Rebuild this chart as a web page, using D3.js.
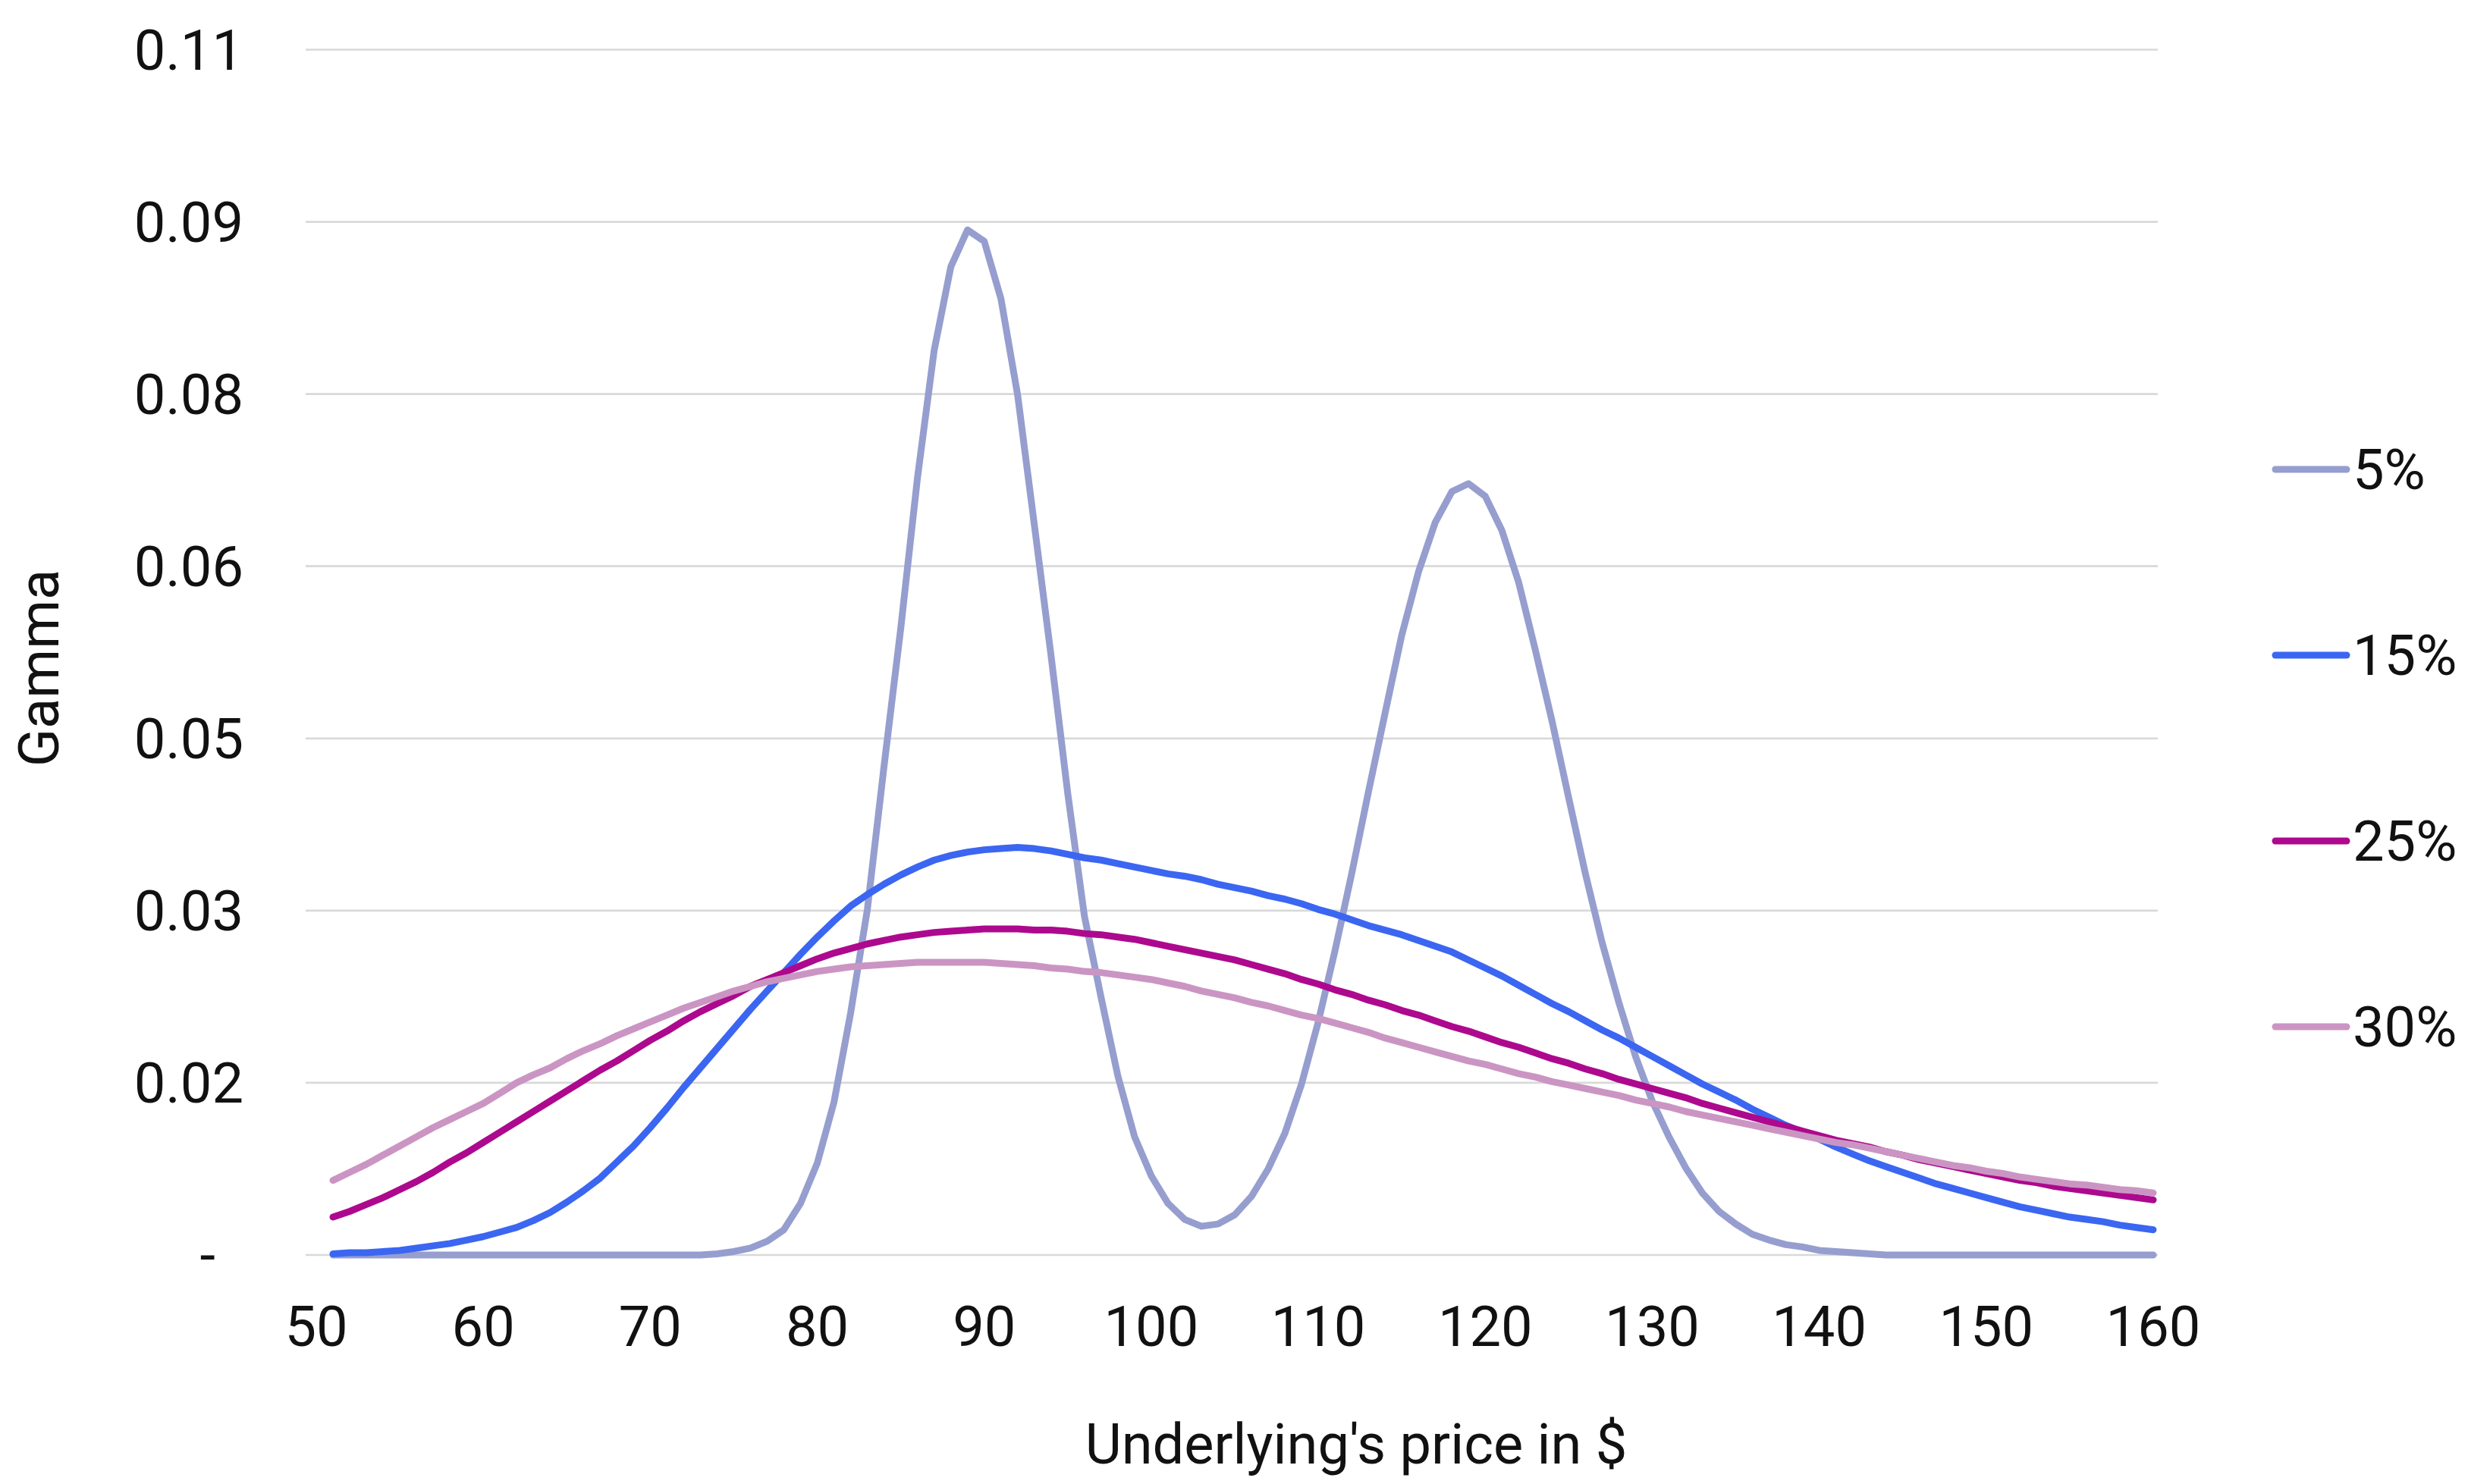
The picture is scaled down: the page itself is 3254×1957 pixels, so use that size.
<!DOCTYPE html>
<html>
<head>
<meta charset="utf-8">
<script src="https://cdn.jsdelivr.net/npm/d3@7"></script>
<style>
  body { margin: 0; background: #fff; }
  text { font-family: Roboto, "Noto Sans", sans-serif; fill: #111; }
</style>
</head>
<body>
<svg width="3254" height="1957"></svg>
<script>

// Data: underlying price and gamma for each volatility
var price = [51,52,53,54,55,56,57,58,59,60,
  61,62,63,64,65,66,67,68,69,70,
  71,72,73,74,75,76,77,78,79,80,
  81,82,83,84,85,86,87,88,89,90,
  91,92,93,94,95,96,97,98,99,100,
  101,102,103,104,105,106,107,108,109,110,
  111,112,113,114,115,116,117,118,119,120,
  121,122,123,124,125,126,127,128,129,130,
  131,132,133,134,135,136,137,138,139,140,
  141,142,143,144,145,146,147,148,149,150,
  151,152,153,154,155,156,157,158,159,160];

var gamma5 = [0,0,0,0,0,0,0,0,0,0,
  0,0,0,0,0,0,0,0,0,0,
  0,0,0,0.0001,0.0003,0.0006,0.0012,0.0022,0.0045,0.0080,
  0.0133,0.0211,0.0301,0.0426,0.0546,0.0677,0.0788,0.0861,0.0893,0.0883,
  0.0833,0.0749,0.0636,0.0522,0.0402,0.0295,0.0224,0.0156,0.0103,0.0069,
  0.0045,0.0031,0.0025,0.0027,0.0035,0.0051,0.0075,0.0106,0.0149,0.0203,
  0.0265,0.0332,0.0403,0.0472,0.0540,0.0595,0.0638,0.0665,0.0672,0.0661,
  0.0631,0.0586,0.0527,0.0465,0.0398,0.0332,0.0272,0.0220,0.0173,0.0134,
  0.0103,0.0076,0.0054,0.0038,0.0027,0.0018,0.0013,0.0009,0.0007,0.0004,
  0.0003,0.0002,0.0001,0,0,0,0,0,0,0,
  0,0,0,0,0,0,0,0,0,0];

var gamma15 = [0.0001,0.0002,0.0002,0.0003,0.0004,0.0006,0.0008,0.0010,0.0013,0.0016,
  0.0020,0.0024,0.0030,0.0037,0.0046,0.0056,0.0067,0.0081,0.0095,0.0111,
  0.0128,0.0146,0.0163,0.0180,0.0197,0.0214,0.0230,0.0246,0.0262,0.0277,
  0.0291,0.0304,0.0314,0.0323,0.0331,0.0338,0.0344,0.0348,0.0351,0.0353,
  0.0354,0.0355,0.0354,0.0352,0.0349,0.0346,0.0344,0.0341,0.0338,0.0335,
  0.0332,0.0330,0.0327,0.0323,0.0320,0.0317,0.0313,0.0310,0.0306,0.0301,
  0.0297,0.0292,0.0287,0.0283,0.0279,0.0274,0.0269,0.0264,0.0257,0.0250,
  0.0243,0.0235,0.0227,0.0219,0.0212,0.0204,0.0196,0.0189,0.0181,0.0173,
  0.0165,0.0157,0.0149,0.0142,0.0135,0.0127,0.0120,0.0113,0.0107,0.0101,
  0.0094,0.0088,0.0082,0.0077,0.0072,0.0067,0.0062,0.0058,0.0054,0.0050,
  0.0046,0.0042,0.0039,0.0036,0.0033,0.0031,0.0029,0.0026,0.0024,0.0022];

var gamma25 = [0.0033,0.0038,0.0044,0.0050,0.0057,0.0064,0.0072,0.0081,0.0089,0.0098,
  0.0107,0.0116,0.0125,0.0134,0.0143,0.0152,0.0161,0.0169,0.0178,0.0187,
  0.0195,0.0204,0.0212,0.0219,0.0226,0.0234,0.0240,0.0246,0.0252,0.0258,
  0.0263,0.0267,0.0271,0.0274,0.0277,0.0279,0.0281,0.0282,0.0283,0.0284,
  0.0284,0.0284,0.0283,0.0283,0.0282,0.0280,0.0279,0.0277,0.0275,0.0272,
  0.0269,0.0266,0.0263,0.0260,0.0257,0.0253,0.0249,0.0245,0.0240,0.0236,
  0.0231,0.0227,0.0222,0.0218,0.0213,0.0209,0.0204,0.0199,0.0195,0.0190,
  0.0185,0.0181,0.0176,0.0171,0.0167,0.0162,0.0158,0.0153,0.0149,0.0145,
  0.0141,0.0137,0.0132,0.0128,0.0124,0.0120,0.0116,0.0112,0.0108,0.0104,
  0.0100,0.0097,0.0094,0.0090,0.0087,0.0083,0.0080,0.0077,0.0074,0.0071,
  0.0068,0.0065,0.0063,0.0060,0.0058,0.0056,0.0054,0.0052,0.0050,0.0048];

var gamma30 = [0.0065,0.0072,0.0079,0.0087,0.0095,0.0103,0.0111,0.0118,0.0125,0.0132,
  0.0141,0.0150,0.0157,0.0163,0.0171,0.0178,0.0184,0.0191,0.0197,0.0203,
  0.0209,0.0215,0.0220,0.0225,0.0230,0.0234,0.0238,0.0241,0.0244,0.0247,
  0.0249,0.0251,0.0252,0.0253,0.0254,0.0255,0.0255,0.0255,0.0255,0.0255,
  0.0254,0.0253,0.0252,0.0250,0.0249,0.0247,0.0246,0.0244,0.0242,0.0240,
  0.0237,0.0234,0.0230,0.0227,0.0224,0.0220,0.0217,0.0213,0.0209,0.0206,
  0.0202,0.0198,0.0194,0.0189,0.0185,0.0181,0.0177,0.0173,0.0169,0.0166,
  0.0162,0.0158,0.0155,0.0151,0.0148,0.0145,0.0142,0.0139,0.0135,0.0132,
  0.0129,0.0125,0.0122,0.0119,0.0116,0.0113,0.0110,0.0107,0.0104,0.0101,
  0.0098,0.0096,0.0093,0.0090,0.0087,0.0084,0.0081,0.0078,0.0076,0.0073,
  0.0071,0.0068,0.0066,0.0064,0.0062,0.0061,0.0059,0.0057,0.0056,0.0054];

var seriesNames = ["5%", "15%", "25%", "30%"];
var xTicks = [50, 60, 70, 80, 90, 100, 110, 120, 130, 140, 150, 160];
var yTicks = [0, 0.015, 0.03, 0.045, 0.06, 0.075, 0.09, 0.105];
var yTickLabels = ["-", "0.02", "0.03", "0.05", "0.06", "0.08", "0.09", "0.11"];

var colors = ["#969ecf", "#3b66f1", "#ad098e", "#cb95c3"];

var series = [gamma5, gamma15, gamma25, gamma30].map(function (vals, i) {
  return { name: seriesNames[i], values: vals.map(function (v, j) { return { x: price[j], y: v }; }) };
});

var svg = d3.select("svg");

// Scales
var x = d3.scaleLinear().domain([50, 160]).range([417, 2839]);
var y = d3.scaleLinear().domain([0, 0.105]).range([1655, 65.5]);
var gridLeft = 403, gridRight = 2845;

svg.append("rect").attr("width", 3254).attr("height", 1957).attr("fill", "#fff");

// Gridlines
svg.append("g")
  .selectAll("line")
  .data(yTicks)
  .enter()
  .append("line")
    .attr("x1", gridLeft)
    .attr("x2", gridRight)
    .attr("y1", function (d) { return y(d); })
    .attr("y2", function (d) { return y(d); })
    .attr("stroke", "#d9d9d9")
    .attr("stroke-width", 2.7);

// Y tick labels
svg.append("g")
  .selectAll("text")
  .data(yTicks)
  .enter()
  .append("text")
    .attr("x", function (d, i) { return i === 0 ? 284 : 321; })
    .attr("y", function (d) { return y(d); })
    .attr("dy", "0.355em")
    .attr("text-anchor", "end")
    .style("font-size", "74px")
    .text(function (d, i) { return yTickLabels[i]; });

// X tick labels
svg.append("g")
  .selectAll("text")
  .data(xTicks)
  .enter()
  .append("text")
    .attr("x", function (d) { return x(d); })
    .attr("y", 1775)
    .attr("text-anchor", "middle")
    .style("font-size", "74px")
    .text(function (d) { return d; });

// Axis titles
svg.append("text")
  .attr("transform", "translate(77,881) rotate(-90)")
  .attr("text-anchor", "middle")
  .style("font-size", "74px")
  .text("Gamma");

svg.append("text")
  .attr("x", 1788)
  .attr("y", 1930)
  .attr("text-anchor", "middle")
  .style("font-size", "74px")
  .text("Underlying's price in $");

// Lines
var line = d3.line()
  .x(function (d) { return x(d.x); })
  .y(function (d) { return y(d.y); });

svg.append("g")
  .selectAll("path")
  .data(series)
  .enter()
  .append("path")
    .attr("d", function (d) { return line(d.values); })
    .attr("fill", "none")
    .attr("stroke", function (d, i) { return colors[i]; })
    .attr("stroke-width", 9)
    .attr("stroke-linejoin", "round")
    .attr("stroke-linecap", "round");

// Legend
var legend = svg.append("g")
  .selectAll("g")
  .data(seriesNames)
  .enter()
  .append("g")
    .attr("transform", function (d, i) { return "translate(0," + (619 + i * 245) + ")"; });

legend.append("line")
  .attr("x1", 3000)
  .attr("x2", 3094)
  .attr("stroke", function (d, i) { return colors[i]; })
  .attr("stroke-width", 9)
  .attr("stroke-linecap", "round");

legend.append("text")
  .attr("x", 3102)
  .attr("dy", "0.355em")
  .style("font-size", "74px")
  .text(function (d) { return d; });

</script>
</body>
</html>
